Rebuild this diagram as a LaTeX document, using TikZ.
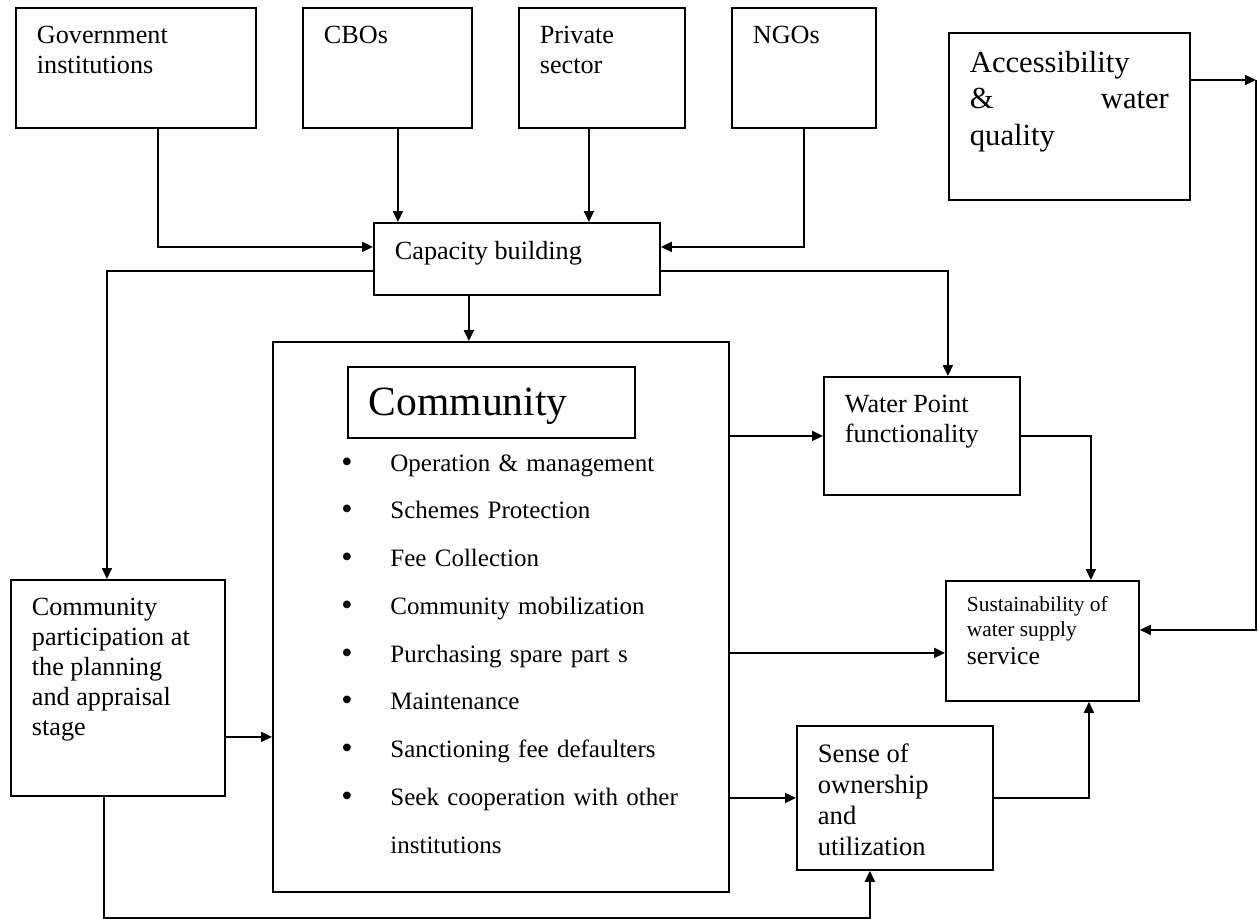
\documentclass[tikz,border=0pt]{standalone}
\usepackage{fontspec}
\setmainfont{Liberation Serif}
\usetikzlibrary{arrows.meta}

\newlength{\unitpx}
\setlength{\unitpx}{0.5pt}
\newcommand{\boxtext}[3]{\parbox[t][#2\unitpx][t]{#1\unitpx}{\raggedright #3}}

\tikzset{
  box/.style={draw, line width=0.9pt, anchor=north west, inner xsep=10.5pt, inner ysep=9pt,
              font=\fontsize{13.1}{15}\selectfont},
  conn/.style={->, line width=0.9pt},
  dot/.style={anchor=base, inner sep=0pt, font=\fontsize{16}{23.9}\selectfont},
  itm/.style={anchor=base west, inner sep=0pt, text width=160pt, align=left,
              font=\fontsize{12.5}{23.9}\selectfont}
}

\begin{document}
\begin{tikzpicture}[x=0.5pt, y=-0.5pt, >={Triangle[length=5.5pt,width=5pt]}]
\useasboundingbox (0,0) rectangle (1258,918);

% actors
\node[box] (gov) at (15,7) {\boxtext{198}{84}{Government\\institutions}};
\node[box] (cbo) at (302,7) {\boxtext{127}{84}{CBOs}};
\node[box] (priv) at (518,7) {\boxtext{124}{84}{Private\\sector}};
\node[box] (ngo) at (731,7) {\boxtext{102}{84}{NGOs}};
\node[box, font=\fontsize{15.3}{18.25}\selectfont] (acc) at (948,32)
  {\boxtext{199}{131}{Accessibility\\\&\hfill water\\quality}};

\node[box] (cap) at (373,222) {\boxtext{244}{36}{Capacity building}};

% community
\node[draw, line width=0.9pt, anchor=north west, inner sep=0pt,
      minimum width=228pt, minimum height=275pt] (comm) at (272,341) {};
\node[box, inner ysep=10.35pt, font=\fontsize{20.8}{24}\selectfont] (ctitle) at (347,366)
  {\boxtext{245}{29.6}{Community}};

\foreach \txt [count=\i] in {Operation \& management, Schemes Protection, Fee Collection,
    Community mobilization, Purchasing spare part s, Maintenance,
    Sanctioning fee defaulters, {Seek cooperation with other\\institutions}}
  {
  \node[dot] (dot\i) at (347,{424.25+47.75*\i}) {\textbullet};
  \node[itm] (item\i) at (390,{423.25+47.75*\i}) {\txt};
  }

\node[box] (cp) at (10,579)
  {\boxtext{172}{180}{Community\\participation at\\the planning\\and appraisal\\stage}};
\node[box] (wp) at (823,376) {\boxtext{154}{82}{Water Point\\functionality}};
\node[box, inner ysep=7.75pt] (sust) at (945,580)
  {\boxtext{151}{89}{\fontsize{10.7}{12.5}\selectfont Sustainability of\\water supply\\[1.5pt]%
   \fontsize{12.9}{12.5}\selectfont service}};
\node[box, font=\fontsize{13.3}{15.5}\selectfont] (sense) at (796,725)
  {\boxtext{154}{108}{Sense of\\ownership\\and\\utilization}};

% connectors
\draw[conn] ([xshift=11pt]gov.south) |- ([yshift=6pt]cap.west);
\draw[conn] ([xshift=5.25pt]cbo.south) coordinate (cbout) -- (cbout |- cap.north);
\draw[conn] ([xshift=-6.5pt]priv.south) coordinate (privout) -- (privout |- cap.north);
\draw[conn] (ngo.south) |- ([yshift=6pt]cap.east);

\draw[conn] ([yshift=-6pt]cap.west) -| ([xshift=-5.5pt]cp.north);
\draw[conn] ([yshift=-6pt]cap.east) -| ([xshift=13pt]wp.north);
\draw[conn] ([xshift=-24pt]cap.south) coordinate (capout) -- (capout |- comm.north);

\coordinate (accout) at (1256,80);
\draw[conn] (acc.east |- accout) -- (accout);
\draw[conn] (accout) |- ([yshift=5.5pt]sust.east);

\draw[conn] (comm.east |- wp.west) -- (wp.west);
\draw[conn] (wp.east) -| ([xshift=24.25pt]sust.north);
\coordinate (sustin) at ([yshift=-6pt]sust.west);
\draw[conn] (comm.east |- sustin) -- (sustin);
\draw[conn] (comm.east |- sense.west) -- (sense.west);
\draw[conn] (sense.east) -| ([xshift=23.25pt]sust.south);

\coordinate (cpout) at ([yshift=-24.5pt]cp.east);
\draw[conn] (cpout) -- (cpout -| comm.west);
\draw[conn] ([xshift=-7pt]cp.south) -- ++(0,121) -| ([xshift=-12.5pt]sense.south);

\end{tikzpicture}
\end{document}
